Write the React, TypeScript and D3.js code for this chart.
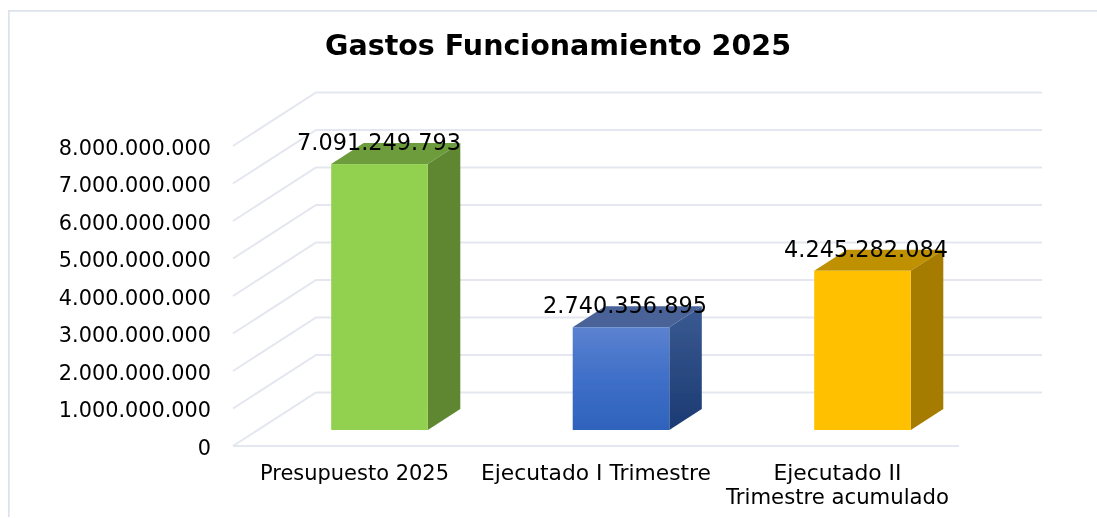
import React from "react";
import * as d3 from "d3";

const categories = ["Presupuesto 2025", "Ejecutado I Trimestre", "Ejecutado II|Trimestre acumulado"];
const categoryWidths = ["189", "230", "128|223"];
const values = [7091249793, 2740356895, 4245282084];
const valueLabels = ["7.091.249.793", "2.740.356.895", "4.245.282.084"];
const yTicks = [0, 1e9, 2e9, 3e9, 4e9, 5e9, 6e9, 7e9, 8e9];
const tickLabels = ["0", "1.000.000.000", "2.000.000.000", "3.000.000.000", "4.000.000.000", "5.000.000.000", "6.000.000.000", "7.000.000.000", "8.000.000.000"];
const frontColors = ["#92d050", "url(#blueFront)", "#ffc000"];
const topColors = ["#6d9c3c", "#4a6499", "#bf9000"];
const sideColors = ["#5f8733", "url(#blueSide)", "#a67c00"];

const W = 1097, H = 518;
const FONT = "'DejaVu Sans', Verdana, sans-serif";
const y = d3.scaleLinear().domain([0, 8e9]).range([446, 146]);
const x = d3.scaleBand<number>().domain([0, 1, 2]).range([258.75, 983.25]).paddingInner(0.6).paddingOuter(0.3);
const FLOOR_L = 233, FLOOR_R = 959, DX = 83, DY = 53.5;
const BX = 32.5, BY = 21, BASE_LIFT = 16;
const LABEL_SHIFT = [-0.5, 4, 3.5];

export default function App() {
  return (
    <svg width={W} height={H} style={{ position: "absolute", left: 0, top: 0, background: "#fff" }}>
      <defs>
        <linearGradient id="blueFront" x1="0" y1="0" x2="0" y2="1">
          <stop offset="0" stopColor="#5b82d0" />
          <stop offset="0.5" stopColor="#3f6fc8" />
          <stop offset="1" stopColor="#2f63bb" />
        </linearGradient>
        <linearGradient id="blueSide" x1="0" y1="0" x2="0" y2="1">
          <stop offset="0" stopColor="#3a5a92" />
          <stop offset="1" stopColor="#1b3a72" />
        </linearGradient>
        <filter id="soft" x="0" y="0" width="100%" height="100%">
          <feGaussianBlur stdDeviation="0.45" />
        </filter>
      </defs>
      <g filter="url(#soft)">
        <path d={`M1097,10.5 H8.5 V517`} fill="none" stroke="#dde2ec" strokeWidth={2.5} />
        {yTicks.map((t, i) => (
          <g key={i} fill="none" stroke="#e4e7ef" strokeWidth={2}>
            <path d={`M${FLOOR_L},${y(t)} L${FLOOR_L + DX},${y(t) - DY} H${FLOOR_R + DX}`} />
            {t === 0 && <path d={`M${FLOOR_L},${y(t)} H${FLOOR_R}`} />}
          </g>
        ))}
        {tickLabels.map((s, i) => (
          <text key={i} x={211} y={y(yTicks[i]) + 8.5} textAnchor="end" fontFamily={FONT} fontSize={20.8} fill="#000">{s}</text>
        ))}
        {values.map((v, i) => {
          const x0 = x(i)!, w = x.bandwidth();
          const b = y(0) - BASE_LIFT;
          const t = b - (y(0) - y(v));
          return (
            <g key={i}>
              <path d={`M${x0},${t} l${BX},${-BY} h${w} l${-BX},${BY} Z`} fill={topColors[i]} />
              <path d={`M${x0 + w},${t} l${BX},${-BY} V${b - BY} l${-BX},${BY} Z`} fill={sideColors[i]} />
              <rect x={x0} y={t} width={w} height={b - t} fill={frontColors[i]} />
              <text x={x0 + w / 2 + LABEL_SHIFT[i]} y={t - 14} textAnchor="middle" fontFamily={FONT} fontSize={22.4} fill="#000">{valueLabels[i]}</text>
            </g>
          );
        })}
        {categories.map((c, i) => c.split("|").map((s, k) => (
          <text key={c + k} x={x(i)! + x.bandwidth() / 2 - 25} y={480 + k * 24} textAnchor="middle" fontFamily={FONT} fontSize={20.5}
            textLength={+categoryWidths[i].split("|")[k]} lengthAdjust="spacingAndGlyphs" fill="#000">{s}</text>
        )))}
        <text x={558} y={55} textAnchor="middle" fontFamily={FONT} fontWeight="bold" fontSize={27.5} textLength={466} lengthAdjust="spacingAndGlyphs" fill="#000">Gastos Funcionamiento 2025</text>
      </g>
    </svg>
  );
}
